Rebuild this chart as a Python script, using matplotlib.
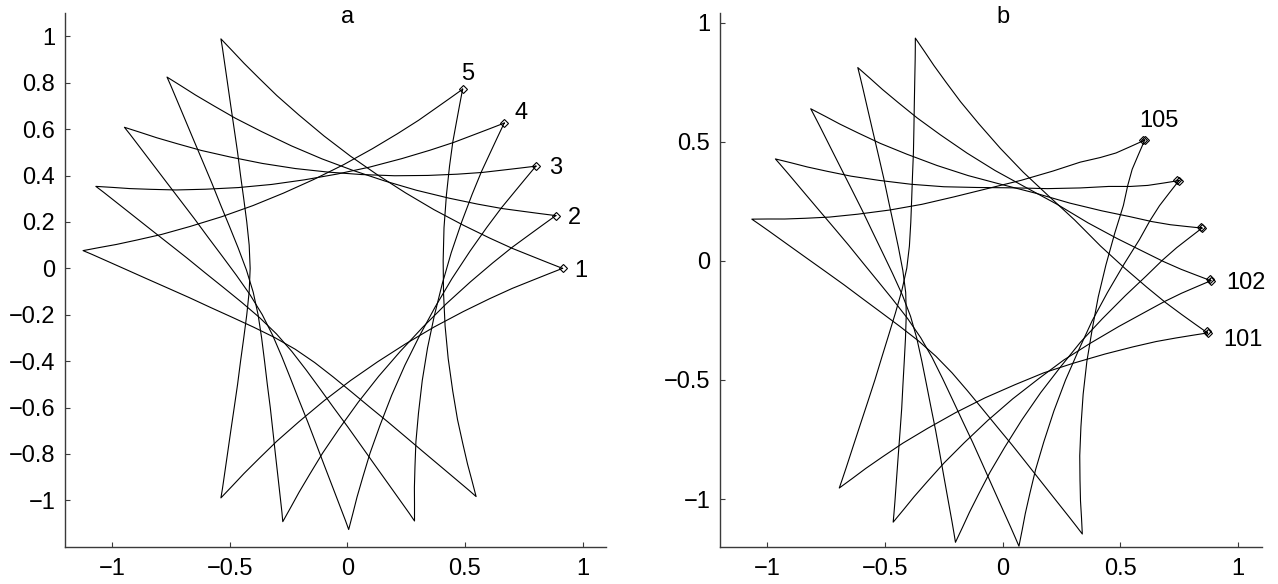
import numpy as np
import matplotlib.pyplot as plt
from matplotlib.transforms import Affine2D, blended_transform_factory
from matplotlib.projections.polar import PolarAxes

plt.rcParams['font.family'] = ['Liberation Sans', 'DejaVu Sans']

# Panel a: five loops, they all share the same radial profile
radius_a = [0.915, 0.852, 0.787, 0.707, 0.619, 0.527, 0.447, 0.409, 0.423, 0.484, 0.579, 0.693, 0.803, 0.902,
            0.987, 1.056, 1.126,
            1.088, 1.041, 0.948, 0.857, 0.769, 0.684, 0.605, 0.533, 0.472, 0.429, 0.413, 0.429, 0.472, 0.533,
            0.605, 0.684, 0.769, 0.857, 0.948, 1.041, 1.088,
            1.126, 1.056, 0.987, 0.902, 0.803, 0.693, 0.579, 0.484, 0.423, 0.409, 0.447, 0.527, 0.619, 0.707,
            0.787, 0.852, 0.915]

angle_a1 = [0, 1.7, 3.8, 7.0, 12.2, 20.7, 34.5, 52.8, 72.3, 88.4, 99.8, 107.3, 111.9, 114.6, 116.4, 117.5, 118.5,
            119.2, 120.2, 122.5, 125.3, 128.7, 133.0, 138.6, 145.7, 154.9, 166.5, 180.0, 193.5, 205.1, 214.3,
            221.4, 227.0, 231.3, 234.7, 237.5, 239.8, 240.8,
            241.5, 242.5, 243.6, 245.4, 248.1, 252.7, 260.2, 271.6, 287.7, 307.2, 325.5, 339.3, 347.8, 353.0,
            356.2, 358.3, 360.0]
angle_a2 = [14.4, 16.1, 18.2, 21.4, 26.6, 35.1, 48.9, 67.2, 86.7, 102.8, 114.2, 121.7, 126.3, 129.0, 130.8,
            131.9, 132.9,
            133.6, 134.6, 136.9, 139.7, 143.1, 147.4, 153.0, 160.1, 169.3, 180.9, 194.4, 207.9, 219.5, 228.7,
            235.8, 241.4, 245.7, 249.1, 251.9, 254.2, 255.2,
            255.9, 256.9, 258.0, 259.8, 262.5, 267.1, 274.6, 286.0, 302.1, 321.6, 339.9, 353.7, 362.2, 367.4,
            370.6, 372.7, 374.4]
angle_a3 = [28.8, 30.5, 32.6, 35.8, 41.0, 49.5, 63.3, 81.6, 101.1, 117.2, 128.6, 136.1, 140.7, 143.4, 145.2,
            146.3, 147.3,
            148.0, 149.0, 151.3, 154.1, 157.5, 161.8, 167.4, 174.5, 183.7, 195.3, 208.8, 222.3, 233.9, 243.1,
            250.2, 255.8, 260.1, 263.5, 266.3, 268.6, 269.6,
            270.3, 271.3, 272.4, 274.2, 276.9, 281.5, 289.0, 300.4, 316.5, 336.0, 354.3, 368.1, 376.6, 381.8,
            385.0, 387.1, 388.8]
angle_a4 = [43.2, 44.9, 47.0, 50.2, 55.4, 63.9, 77.7, 96.0, 115.5, 131.6, 143.0, 150.5, 155.1, 157.8, 159.6,
            160.7, 161.7,
            162.4, 163.4, 165.7, 168.5, 171.9, 176.2, 181.8, 188.9, 198.1, 209.7, 223.2, 236.7, 248.3, 257.5,
            264.6, 270.2, 274.5, 277.9, 280.7, 283.0, 284.0,
            284.7, 285.7, 286.8, 288.6, 291.3, 295.9, 303.4, 314.8, 330.9, 350.4, 368.7, 382.5, 391.0, 396.2,
            399.4, 401.5, 403.2]
angle_a5 = [57.6, 59.3, 61.4, 64.6, 69.8, 78.3, 92.1, 110.4, 129.9, 146.0, 157.4, 164.9, 169.5, 172.2, 174.0,
            175.1, 176.1,
            176.8, 177.8, 180.1, 182.9, 186.3, 190.6, 196.2, 203.3, 212.5, 224.1, 237.6, 251.1, 262.7, 271.9,
            279.0, 284.6, 288.9, 292.3, 295.1, 297.4, 298.4,
            299.1, 300.1, 301.2, 303.0, 305.7, 310.3, 317.8, 329.2, 345.3, 364.8, 383.1, 396.9, 405.4, 410.6,
            413.8, 415.9, 417.6]
labels_a = ['1', '2', '3', '4', '5']

# Panel b: loops about the hole centre, start and end points do not quite meet
centre_b = (0.0, -0.1)
profile_b = [0.611, 0.523, 0.446, 0.409, 0.423, 0.481, 0.573, 0.683, 0.789, 0.884, 0.966, 1.033, 1.100,
             1.064, 1.018, 0.929, 0.841, 0.756, 0.674, 0.598, 0.529, 0.470, 0.428, 0.413, 0.428, 0.470, 0.529,
             0.598, 0.674, 0.756, 0.841, 0.929, 1.018, 1.064,
             1.100, 1.033, 0.966, 0.884, 0.789, 0.683, 0.573, 0.481, 0.423, 0.409, 0.446, 0.523, 0.611]
start_radius_b101 = [0.893, 0.832, 0.769, 0.694]
start_radius_b102 = [0.884, 0.823, 0.760, 0.690]
start_radius_b103 = [0.879, 0.818, 0.755, 0.687]
start_radius_b104 = [0.867, 0.806, 0.744, 0.681]
start_radius_b105 = [0.856, 0.795, 0.733, 0.676]
end_radius_b = [0.889, 0.880, 0.875, 0.863, 0.852]

angle_b101 = [-13.1, -11.4, -9.3, -6.1, -0.9, 7.6, 21.4, 41.6, 63.5, 79.6, 91.0, 98.5, 103.1, 105.8, 107.6,
              108.7, 109.7,
              110.4, 111.4, 113.7, 116.5, 119.9, 124.2, 129.8, 136.9, 146.1, 157.7, 170.3, 182.9, 194.5, 203.7,
              210.8, 216.4, 220.7, 224.1, 226.9, 229.2, 230.2,
              230.9, 231.9, 233.0, 234.8, 237.5, 242.1, 249.6, 261.0, 277.1, 295.2, 312.4, 326.2, 334.7, 339.9,
              343.1, 345.2, 346.9, 347.3]
angle_b102 = [1.1, 2.8, 4.9, 8.1, 13.3, 21.8, 35.6, 55.9, 77.8, 93.9, 105.3, 112.8, 117.4, 120.1, 121.9, 123.0,
              124.0,
              124.7, 125.7, 128.0, 130.8, 134.2, 138.5, 144.1, 151.2, 160.4, 172.0, 184.5, 197.0, 208.6, 217.8,
              224.9, 230.5, 234.8, 238.2, 241.0, 243.3, 244.3,
              245.0, 246.0, 247.1, 248.9, 251.6, 256.2, 263.7, 275.1, 291.2, 309.4, 326.6, 340.4, 348.9, 354.1,
              357.3, 359.4, 361.1, 361.5]
angle_b103 = [15.7, 17.4, 19.5, 22.7, 27.9, 36.4, 50.2, 70.1, 91.6, 107.7, 119.1, 126.6, 131.2, 133.9, 135.7,
              136.8, 137.8,
              138.5, 139.5, 141.8, 144.6, 148.0, 152.3, 157.9, 165.0, 174.2, 185.8, 198.7, 211.5, 223.1, 232.3,
              239.4, 245.0, 249.3, 252.7, 255.5, 257.8, 258.8,
              259.5, 260.5, 261.6, 263.4, 266.1, 270.7, 278.2, 289.6, 305.7, 323.9, 341.2, 355.0, 363.5, 368.7,
              371.9, 374.0, 375.7, 376.1]
angle_b104 = [30.3, 32.0, 34.1, 37.3, 42.5, 51.0, 64.8, 84.2, 105.1, 121.2, 132.6, 140.1, 144.7, 147.4, 149.2,
              150.3, 151.3,
              152.0, 153.0, 155.3, 158.1, 161.5, 165.8, 171.4, 178.5, 187.7, 199.3, 212.5, 225.6, 237.2, 246.4,
              253.5, 259.1, 263.4, 266.8, 269.6, 271.9, 272.9,
              273.6, 274.6, 275.7, 277.5, 280.2, 284.8, 292.3, 303.7, 319.8, 338.3, 355.8, 369.6, 378.1, 383.3,
              386.5, 388.6, 390.3, 390.7]
angle_b105 = [45.2, 46.9, 49.0, 52.2, 57.4, 65.9, 79.7, 98.8, 119.3, 135.4, 146.8, 154.3, 158.9, 161.6, 163.4,
              164.5, 165.5,
              166.2, 167.2, 169.5, 172.3, 175.7, 180.0, 185.6, 192.7, 201.9, 213.5, 226.7, 239.9, 251.5, 260.7,
              267.8, 273.4, 277.7, 281.1, 283.9, 286.2, 287.2,
              287.9, 288.9, 290.0, 291.8, 294.5, 299.1, 306.6, 318.0, 334.1, 352.9, 370.7, 384.5, 393.0, 398.2,
              401.4, 403.5, 405.2, 405.6]
labels_b = ['101', '102', '', '', '105']

ticks_x = [-1, -0.5, 0, 0.5, 1]
ticklabels_x = ['\u22121', '\u22120.5', '0', '0.5', '1']
ticks_y_a = [-1, -0.8, -0.6, -0.4, -0.2, 0, 0.2, 0.4, 0.6, 0.8, 1]
ticklabels_y_a = ['\u22121', '\u22120.8', '\u22120.6', '\u22120.4', '\u22120.2', '0', '0.2', '0.4', '0.6', '0.8', '1']
ticks_y_b = [-1, -0.5, 0, 0.5, 1]
ticklabels_y_b = ['\u22121', '\u22120.5', '0', '0.5', '1']

# label offsets next to the start points, in points
offsets_a = [(13.2, -1.8), (13.2, -1.8), (14.2, -1.3), (12.0, 7.3), (3.6, 11.2)]
offsets_b = [(25.2, -5.4), (25.0, -1.8), (0, 0), (0, 0), (10.1, 13.8)]


def polar_transform(ax, centre):
    # (degrees, radius) about centre -> data coordinates of ax
    return (Affine2D().scale(np.pi / 180, 1.0)
            + PolarAxes.PolarTransform(apply_theta_transforms=False)
            + Affine2D().translate(centre[0], centre[1])
            + ax.transData)


def draw_loops(ax, angles, radii, labels, offsets, centre, mark_end):
    tr = polar_transform(ax, centre)
    for ang, rad, lab, off in zip(angles, radii, labels, offsets):
        ax.plot(ang, rad, color='k', lw=0.8, transform=tr)
        ax.plot([ang[0]], [rad[0]], marker='D', ms=4, mfc='none', mec='k', mew=0.8, transform=tr)
        if mark_end:
            ax.plot([ang[-1]], [rad[-1]], marker='D', ms=4, mfc='none', mec='k', mew=0.8, transform=tr)
        if lab:
            ax.annotate(lab, xy=(ang[0], rad[0]), xycoords=tr, xytext=off, textcoords='offset points',
                        ha='center', va='center', fontsize=17)


fig = plt.figure(figsize=(12.78, 5.84), dpi=100)
ax_a = fig.add_axes([0.0509, 0.0639, 0.4233, 0.9134])
ax_b = fig.add_axes([0.5634, 0.0639, 0.4239, 0.9134])

draw_loops(ax_a, [angle_a1, angle_a2, angle_a3, angle_a4, angle_a5], [radius_a] * 5, labels_a, offsets_a,
           (0.0, 0.0), False)

# each panel b loop: its own start radii, the shared profile, then back out to the end point
starts_b = [start_radius_b101, start_radius_b102, start_radius_b103, start_radius_b104, start_radius_b105]
radii_b = []
for start, r_end in zip(starts_b, end_radius_b):
    radii_b.append(start + profile_b + start[::-1] + [r_end])
draw_loops(ax_b, [angle_b101, angle_b102, angle_b103, angle_b104, angle_b105], radii_b, labels_b, offsets_b,
           centre_b, True)

ax_a.set_xlim(-1.2, 1.1)
ax_a.set_ylim(-1.2, 1.1)
ax_a.set_yticks(ticks_y_a)
ax_a.set_yticklabels(ticklabels_y_a)

ax_b.set_xlim(-1.2, 1.1)
ax_b.set_ylim(-1.2, 1.04)
ax_b.set_yticks(ticks_y_b)
ax_b.set_yticklabels(ticklabels_y_b)

for ax, title in [(ax_a, 'a'), (ax_b, 'b')]:
    ax.set_xticks(ticks_x)
    ax.set_xticklabels(ticklabels_x)
    ax.spines['top'].set_visible(False)
    ax.spines['right'].set_visible(False)
    for side in ['left', 'bottom']:
        ax.spines[side].set_linewidth(1.0)
        ax.spines[side].set_color('#3a3a3a')
    ax.tick_params(direction='in', length=3.6, width=0.8, color='#3a3a3a', labelsize=17)
    ax.tick_params(axis='y', pad=7)
    ax.tick_params(axis='x', pad=8)
    ax.text(0, 0.982, title, transform=blended_transform_factory(ax.transData, ax.transAxes),
            ha='center', va='baseline', fontsize=17)

fig.savefig('out.png', dpi=100)
